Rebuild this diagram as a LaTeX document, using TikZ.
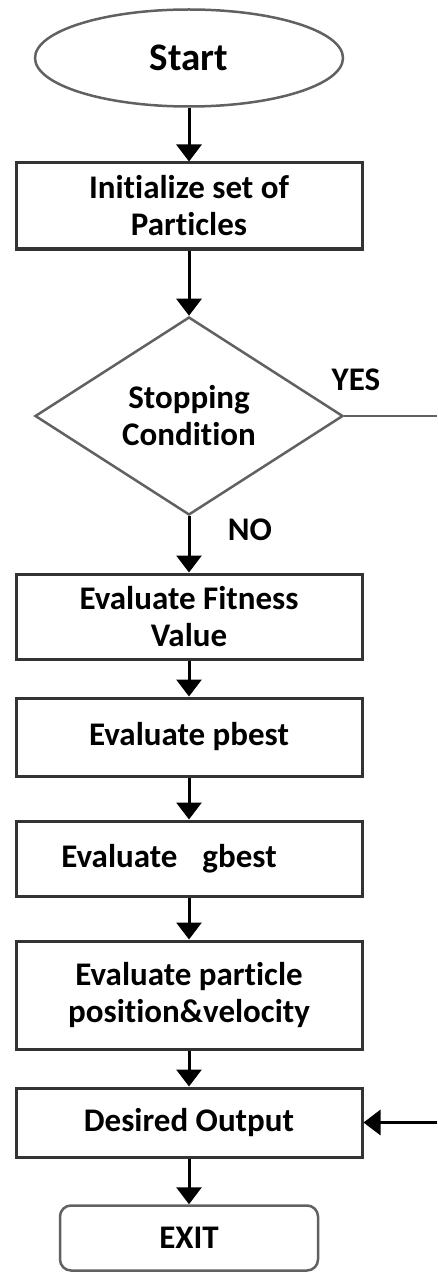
\documentclass[tikz,border=0pt]{standalone}
\usepackage{fontspec}
\setmainfont{Carlito}[Ligatures=NoCommon]
\usetikzlibrary{shapes.geometric,arrows.meta}

\begin{document}
\begin{tikzpicture}[x=1pt,y=-1pt,
  every node/.style={font=\bfseries\fontsize{33}{37}\selectfont, align=center, inner sep=0pt},
  procbox/.style={draw=black!80, line width=3pt, minimum width=346pt},
  softline/.style={draw=black!62, line width=2.5pt},
  flow/.style={-{Triangle[length=17pt,width=25pt]}, line width=3pt, draw=black},
  plain/.style={font=\bfseries\fontsize{33}{37}\selectfont}
]
\useasboundingbox (0,0) rectangle (437,1273);

% terminals and process steps
\node[softline, ellipse, minimum width=308pt, minimum height=97pt,
      font=\bfseries\fontsize{39}{44}\selectfont] (start) at (189,58) {Start};
\node[procbox, minimum height=86pt] (init) at (189,206) {Initialize set of\\Particles};
\node[softline, diamond, minimum width=308pt, minimum height=198pt] (cond) at (189,416) {Stopping\\Condition};
\node[procbox, minimum height=85pt] (fit) at (189,616.5) {Evaluate Fitness\\Value};
\node[procbox, minimum height=78pt] (pb) at (189,737) {Evaluate pbest};
\node[procbox, minimum height=75pt] (gb) at (189,858.5) {Evaluate\hspace{25pt}gbest\rule{40pt}{0pt}};
\node[procbox, minimum height=108pt] (pp) at (189,995) {Evaluate particle\\position\&velocity};
\node[procbox, minimum height=69pt] (out) at (189,1122.5) {Desired Output};
\node[softline, rectangle, rounded corners=11pt, minimum width=258pt, minimum height=65pt] (exit) at (189,1238) {EXIT};

% branch labels
\node[plain] (yes) at (356,380) {YES};
\node[plain] (no) at (250,530) {NO};

% main flow
\draw[flow] (start) -- (init);
\draw[flow] (init) -- (cond);
\draw[flow] (cond) -- (fit);
\draw[flow] (fit) -- (pb);
\draw[flow] (pb) -- (gb);
\draw[flow] (gb) -- (pp);
\draw[flow] (pp) -- (out);
\draw[flow] (out) -- (exit);

% YES branch leaving to the right and returning into the output step
\coordinate (yesend) at (437,416);
\coordinate (back) at (437,1122.5);
\draw[softline] (cond.east) -- (yesend);
\draw[flow] (back) -- (out.east);
\end{tikzpicture}
\end{document}
